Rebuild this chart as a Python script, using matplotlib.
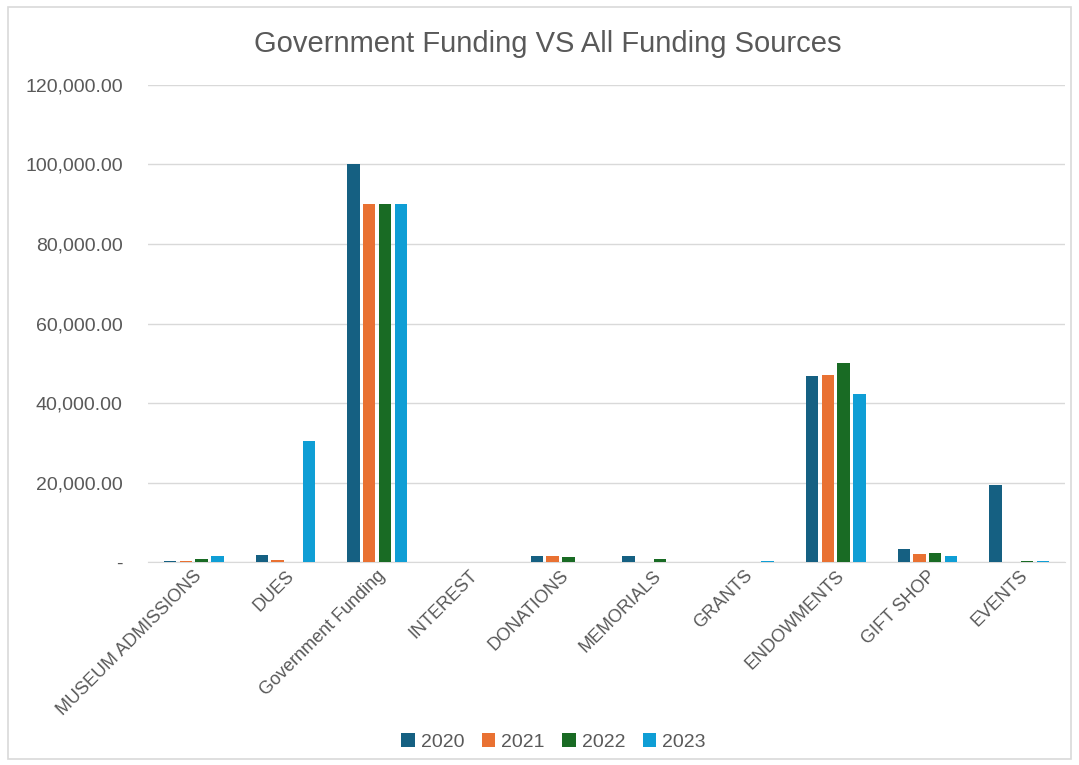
import numpy as np
import matplotlib.pyplot as plt
from matplotlib.patches import Rectangle
from matplotlib.ticker import FuncFormatter

plt.rcParams['font.family'] = ['Liberation Sans', 'DejaVu Sans']

categories = ["MUSEUM ADMISSIONS", "DUES", "Government Funding", "INTEREST", "DONATIONS",
              "MEMORIALS", "GRANTS", "ENDOWMENTS", "GIFT SHOP", "EVENTS"]
years = ["2020", "2021", "2022", "2023"]
v2020 = [400, 1900, 100000, 0, 1600, 1600, 0, 46800, 3350, 19300]
v2021 = [300, 600, 90000, 0, 1600, 0, 0, 47200, 2100, 0]
v2022 = [700, 0, 90000, 0, 1300, 800, 0, 50000, 2350, 300]
v2023 = [1600, 30500, 90000, 0, 0, 0, 300, 42400, 1600, 300]
colors = ["#156082", "#E97132", "#196B24", "#0F9ED5"]

fig = plt.figure(figsize=(10.79, 7.65), dpi=100)
ax = fig.add_axes([0.137, 0.265, 0.85, 0.624])

x = np.arange(len(categories))
step = 0.172
for i, (vals, c, lab) in enumerate(zip([v2020, v2021, v2022, v2023], colors, years)):
    ax.bar(x + (i - 1.5) * step, vals, width=0.135, color=c, label=lab, zorder=3)

ax.set_ylim(0, 120000)
ax.set_xlim(-0.5, len(categories) - 0.5)
ax.set_yticks(range(0, 120001, 20000))
ax.yaxis.set_major_formatter(FuncFormatter(lambda v, p: "-" if v == 0 else f"{v:,.2f}"))
ax.grid(axis="y", color="#D9D9D9", linewidth=1, zorder=0)
for s in ["top", "right", "left"]:
    ax.spines[s].set_visible(False)
ax.spines["bottom"].set_color("#D9D9D9")
ax.tick_params(axis="both", length=0, colors="#595959")
ax.tick_params(axis="y", pad=18, labelsize=14)
ax.tick_params(axis="x", labelsize=13)
ax.set_xticks(x)
ax.set_xticklabels(categories, rotation=45, ha="right", rotation_mode="anchor")

fig.text(0.508, 0.943, "Government Funding VS All Funding Sources", ha="center", va="center",
         fontsize=21, color="#595959")
fig.legend(loc="center", bbox_to_anchor=(0.513, 0.03), ncol=4, frameon=False, fontsize=14,
           handlelength=0.7, handleheight=0.7, handletextpad=0.3, columnspacing=0.9,
           labelcolor="#595959")
fig.patches.append(Rectangle((0.007, 0.008), 0.986, 0.983, transform=fig.transFigure,
                             fill=False, edgecolor="#D9D9D9", linewidth=1.2))

fig.savefig("out.png", dpi=100)
